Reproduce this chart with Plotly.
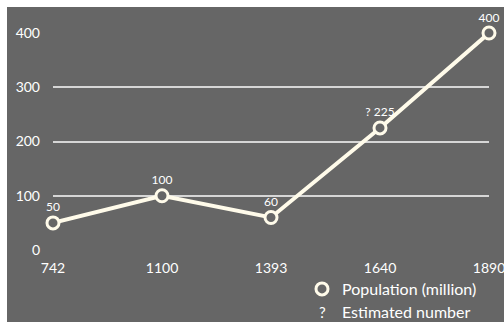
import plotly.graph_objects as go

years = ["742", "1100", "1393", "1640", "1890"]
population = [50, 100, 60, 225, 400]
point_labels = ["50", "100", "60", "? 225", "400"]
y_ticks = [0, 100, 200, 300, 400]
legend_names = ["Population (million)", "Estimated number"]

BG = "#666666"
CREAM = "#fffbea"
FONT = "Lato, 'Open Sans', sans-serif"

W, H = 504, 322
L, R, T, B = 53, 15, 33, 72
pw, ph = W - L - R, H - T - B


def px(x):
    return (x - L) / pw


def py(y):
    return (H - B - y) / ph


fig = go.Figure()
fig.add_trace(go.Scatter(
    x=years, y=population, mode="lines+markers+text",
    text=point_labels, textposition="top center",
    textfont=dict(color="white", size=12, family=FONT),
    line=dict(color=CREAM, width=4),
    marker=dict(size=12, color=BG, line=dict(color=CREAM, width=3)),
    cliponaxis=False, showlegend=False,
))
fig.add_trace(go.Scatter(
    x=[None], y=[None], mode="markers", name=legend_names[0],
    marker=dict(size=12, color=BG, line=dict(color=CREAM, width=3)),
))

# grey panel (white border on top and left like the reference)
fig.add_shape(type="rect", xref="paper", yref="paper", layer="below",
              x0=px(7), x1=px(W + 2), y0=py(H + 2), y1=py(7),
              fillcolor=BG, line=dict(width=0))

fig.add_annotation(xref="paper", yref="paper",
                   x=px(322), y=py(321.5),
                   xanchor="center", yanchor="bottom", showarrow=False, borderpad=0,
                   text="?", font=dict(color="white", size=15, family=FONT))
fig.add_annotation(xref="paper", yref="paper",
                   x=px(341), y=py(321.5),
                   xanchor="left", yanchor="bottom", showarrow=False, borderpad=0,
                   text=legend_names[1], font=dict(color="white", size=16, family=FONT))

fig.update_layout(
    width=W, height=H,
    margin=dict(l=L, r=R, t=T, b=B, autoexpand=False),
    paper_bgcolor="white", plot_bgcolor="rgba(0,0,0,0)",
    font=dict(family=FONT, color="white", size=14),
    showlegend=True,
    legend=dict(x=px(302), y=py(272), xanchor="left", yanchor="top",
                bgcolor="rgba(0,0,0,0)", font=dict(size=16, color="white", family=FONT)),
    xaxis=dict(range=[0, 4], showgrid=False, zeroline=False, showline=False,
               tickfont=dict(size=14, color="white", family=FONT), ticks="", ticklabelstandoff=8),
    yaxis=dict(range=[0, 400], tickvals=y_ticks, showgrid=True, gridcolor="#d6d6d6",
               gridwidth=2, zeroline=False, showline=False,
               tickfont=dict(size=14, color="white", family=FONT), ticklabelstandoff=12),
)

fig.write_html("out.html", config={"displayModeBar": False},
               post_script="document.body.style.margin='0';document.body.style.overflow='hidden';")
